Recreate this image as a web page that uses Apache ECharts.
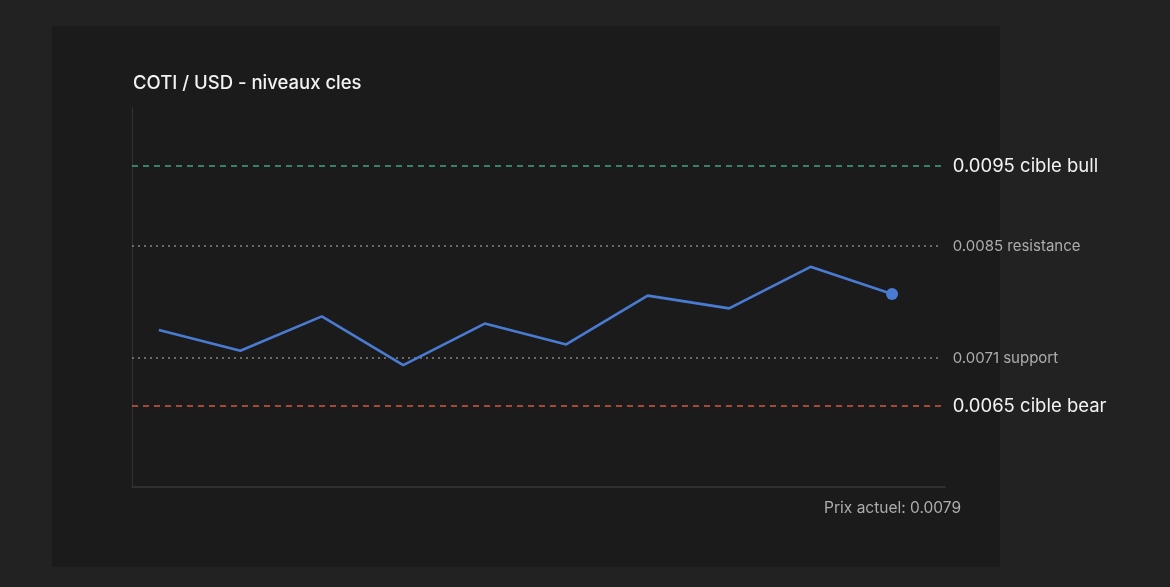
<!DOCTYPE html>
<html>
<head>
<meta charset="utf-8">
<script src="https://cdn.jsdelivr.net/npm/echarts@6/dist/echarts.min.js"></script>
<style>
  html, body { margin: 0; padding: 0; background: #222222; }
  #chart { width: 1170px; height: 587px; }
</style>
</head>
<body>
<div id="chart"></div>
<script>
// ---- data ----
const steps = [0, 1, 2, 3, 4, 5, 6, 7, 8, 9];
const price = [0.00745, 0.00719, 0.00762, 0.00701, 0.00753, 0.00727, 0.00788, 0.00772, 0.00824, 0.0079];
const levelValues = [0.0095, 0.0085, 0.0071, 0.0065];
const levelNames = ['cible bull', 'resistance', 'support', 'cible bear'];
const currentPrice = 0.0079;
const titleText = 'COTI / USD - niveaux cles';

// ---- styles ----
const X_MIN = -0.33, X_MAX = 9.65, LEVEL_END = 9.61;
const levelStyles = [
  { color: '#44a283', type: [6, 5], font: 18.5, text: '#f2f2f2' },
  { color: '#858585', type: [2, 4], font: 15, text: '#adadad' },
  { color: '#858585', type: [2, 4], font: 15, text: '#adadad' },
  { color: '#d4583f', type: [6, 5], font: 18.5, text: '#f2f2f2' }
];
const FONT = 'Inter, "Noto Sans", sans-serif';

const seriesData = steps.map((s, i) => {
  const item = { value: [s, price[i]] };
  if (i === steps.length - 1) {
    item.symbol = 'circle';
    item.symbolSize = 12;
  }
  return item;
});

const levelSeries = levelValues.map((v, i) => ({
  type: 'line',
  silent: true,
  symbol: 'none',
  z: 1,
  data: [[X_MIN, v], [LEVEL_END, v]],
  lineStyle: { color: levelStyles[i].color, type: levelStyles[i].type, width: 1.4 },
  endLabel: {
    show: true,
    distance: 11,
    formatter: v.toFixed(4) + ' ' + levelNames[i],
    color: levelStyles[i].text,
    fontSize: levelStyles[i].font,
    fontFamily: FONT
  }
}));

const chart = echarts.init(document.getElementById('chart'), null, { renderer: 'canvas' });
chart.setOption({
  backgroundColor: '#222222',
  animation: false,
  graphic: [
    {
      type: 'rect', z: -10, silent: true,
      shape: { x: 52, y: 26, width: 948, height: 541 },
      style: { fill: '#1b1b1b' }
    },
    {
      type: 'text', z: 10,
      style: {
        text: 'Prix actuel: ' + currentPrice.toFixed(4),
        x: 961, y: 508, align: 'right', verticalAlign: 'middle',
        fill: '#adadad', fontSize: 15.5, fontFamily: FONT
      }
    }
  ],
  title: {
    text: titleText,
    left: 128, top: 69,
    textStyle: { color: '#f2f2f2', fontSize: 18.5, fontWeight: 500, fontFamily: FONT }
  },
  grid: { left: 132, right: 225, top: 108, bottom: 100 },
  xAxis: {
    type: 'value',
    min: X_MIN, max: X_MAX,
    axisLine: { show: true, onZero: false, lineStyle: { color: '#383838', width: 1.5 } },
    axisTick: { show: false },
    axisLabel: { show: false },
    splitLine: { show: false }
  },
  yAxis: {
    type: 'value',
    min: 0.0054875, max: 0.010225,
    axisLine: { show: true, onZero: false, lineStyle: { color: '#323232', width: 1 } },
    axisTick: { show: false },
    axisLabel: { show: false },
    splitLine: { show: false }
  },
  series: levelSeries.concat([{
    type: 'line',
    data: seriesData,
    symbol: 'none',
    showAllSymbol: true,
    z: 5,
    lineStyle: { color: '#4a7bd3', width: 2.6 },
    itemStyle: { color: '#4a7bd3' }
  }])
});
</script>
</body>
</html>
